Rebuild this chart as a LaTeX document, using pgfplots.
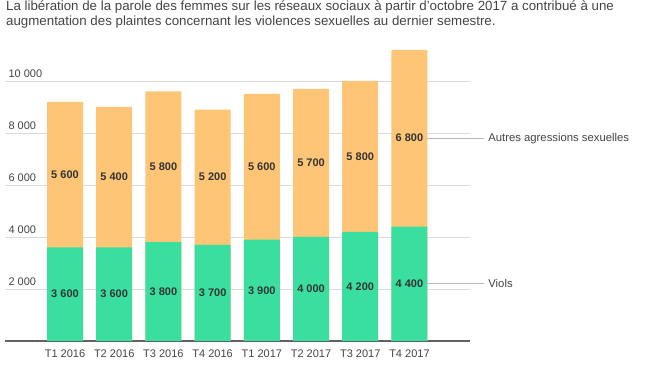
\documentclass[border=0pt]{standalone}
\usepackage{fontspec}
\setmainfont{Liberation Sans}
\usepackage{pgfplots}
\pgfplotsset{compat=1.18}
\definecolor{orangeb}{HTML}{FDC575}
\definecolor{greenb}{HTML}{3ADFA0}
\definecolor{txt}{HTML}{444444}
\definecolor{lbl}{HTML}{333333}
\begin{document}
\begin{tikzpicture}
\path[use as bounding box] (0pt,0pt) rectangle (672pt,372pt);
\node[anchor=north west, inner sep=0, align=left, text=txt, font=\fontsize{13.3}{15.5}\selectfont] at (6pt,371.5pt)
{La libération de la parole des femmes sur les réseaux sociaux à partir d'octobre 2017 a contribué à une\\
augmentation des plaintes concernant les violences sexuelles au dernier semestre.};
\begin{axis}[
  at={(65pt,31pt)}, anchor=origin,
  scale only axis, width=465pt, height=312pt,
  xmin=-1.22, xmax=8.23, ymin=0, ymax=12000,
  clip=false,
  scaled y ticks=false,
  axis lines*=left,
  y axis line style={draw=none},
  x axis line style={draw=black!62, line width=1.3pt, -},
  xtick={0,...,7},
  xticklabels={T1 2016,T2 2016,T3 2016,T4 2016,T1 2017,T2 2017,T3 2017,T4 2017},
  ytick={2000,4000,6000,8000,10000},
  yticklabels={2 000,4 000,6 000,8 000,10 000},
  major tick length=0pt,
  tick style={draw=none},
  ymajorgrids,
  grid style={black!14, line width=0.8pt},
  ticklabel style={font=\fontsize{11}{13}\selectfont, text=txt},
  yticklabel style={anchor=south west, xshift=0pt},
  xticklabel style={yshift=-5pt},
]
\addplot[ybar, bar width=36pt, bar shift=0pt, fill=orangeb, draw=none] coordinates {
 (0,9200) (1,9000) (2,9600) (3,8900) (4,9500) (5,9700) (6,10000) (7,11200)};
\addplot[ybar, bar width=36pt, bar shift=0pt, fill=greenb, draw=none] coordinates {
 (0,3600) (1,3600) (2,3800) (3,3700) (4,3900) (5,4000) (6,4200) (7,4400)};
\addplot[draw=none, mark=none, nodes near coords, point meta=explicit symbolic,
  nodes near coords style={anchor=center, font=\fontsize{11}{13}\selectfont\bfseries, text=lbl}]
 coordinates {
 (0,1800) [3 600] (1,1800) [3 600] (2,1900) [3 800] (3,1850) [3 700]
 (4,1950) [3 900] (5,2000) [4 000] (6,2100) [4 200] (7,2200) [4 400]};
\addplot[draw=none, mark=none, nodes near coords, point meta=explicit symbolic,
  nodes near coords style={anchor=center, font=\fontsize{11}{13}\selectfont\bfseries, text=lbl}]
 coordinates {
 (0,6400) [5 600] (1,6300) [5 400] (2,6700) [5 800] (3,6300) [5 200]
 (4,6700) [5 600] (5,6850) [5 700] (6,7100) [5 800] (7,7800) [6 800]};
\draw[black!28, line width=0.8pt] (axis cs:7.36,7800) -- (axis cs:8.52,7800);
\draw[black!28, line width=0.8pt] (axis cs:7.36,2200) -- (axis cs:8.52,2200);
\node[anchor=west, inner sep=0, text=txt, font=\fontsize{11.3}{13}\selectfont] at (axis cs:8.6,7800) {Autres agressions sexuelles};
\node[anchor=west, inner sep=0, text=txt, font=\fontsize{11.3}{13}\selectfont] at (axis cs:8.6,2200) {Viols};
\end{axis}
\end{tikzpicture}
\end{document}
